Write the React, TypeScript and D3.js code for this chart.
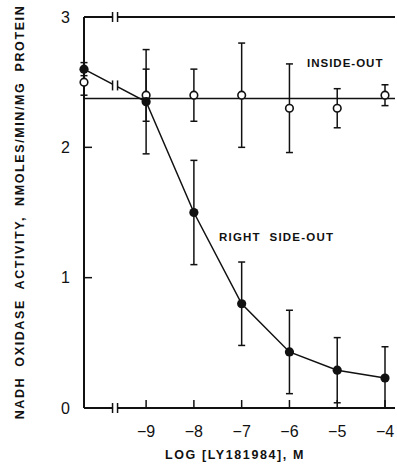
import React from "react";
import * as d3 from "d3";

// log concentration; the control (no drug) sits on the y axis
const CONTROL = -10.3;
const logConc = [-9, -8, -7, -6, -5, -4];
const xTicks = [-9, -8, -7, -6, -5, -4];
const yTicks = [0, 1, 2, 3];

// inside-out vesicles (open circles)
const ioControl = 2.5;
const ioControlErr = 0.1;
const ioValues = [2.4, 2.4, 2.4, 2.3, 2.3, 2.4];
const ioErrors = [0.2, 0.2, 0.4, 0.34, 0.15, 0.08];
const ioMean = 2.375;

// right side-out vesicles (filled circles)
const rsoControl = 2.6;
const rsoControlErr = 0.05;
const rsoValues = [2.35, 1.5, 0.8, 0.43, 0.29, 0.23];
const rsoErrors = [0.4, 0.4, 0.32, 0.32, 0.25, 0.24];

const W = 397;
const H = 465;
const font = "'Liberation Sans', Arial, sans-serif";

const App = () => {
  const x = d3.scaleLinear().domain([CONTROL, -4]).range([84, 385]);
  const y = d3.scaleLinear().domain([0, 3]).range([408, 17]);
  const xEnd = 395;
  const xBreak = -9.65;

  const rsoPts: [number, number][] = [[CONTROL, rsoControl], ...logConc.map((c, i) => [c, rsoValues[i]] as [number, number])];
  const line = d3.line<[number, number]>().x((d) => x(d[0])).y((d) => y(d[1]));

  const errBar = (cx: number, v: number, e: number, key: string) => {
    const px = x(cx);
    const top = y(v + e);
    const bot = y(Math.max(0, v - e));
    return (
      <g key={key} stroke="#111" strokeWidth={1.5}>
        <line x1={px} x2={px} y1={top} y2={bot} />
        <line x1={px - 3.5} x2={px + 3.5} y1={top} y2={top} />
        <line x1={px - 3.5} x2={px + 3.5} y1={bot} y2={bot} />
      </g>
    );
  };

  // break symbol "||" on a horizontal line
  const brk = (bx: number, by: number, key: string) => (
    <g key={key}>
      <rect x={bx - 2} y={by - 2} width={4} height={4} fill="white" />
      <line x1={bx - 2.5} x2={bx - 2.5} y1={by - 5} y2={by + 5} stroke="#111" strokeWidth={1.5} />
      <line x1={bx + 2.5} x2={bx + 2.5} y1={by - 5} y2={by + 5} stroke="#111" strokeWidth={1.5} />
    </g>
  );

  // break on the sloped data segment
  const segX = x(xBreak);
  const t = (segX - x(CONTROL)) / (x(-9) - x(CONTROL));
  const segY = y(rsoControl) + t * (y(rsoValues[0]) - y(rsoControl));

  return (
    <svg width={W} height={H} style={{ position: "absolute", left: 0, top: 0 }} fontFamily={font}>
      <rect width={W} height={H} fill="white" />
      {/* axes frame */}
      <g stroke="#111" strokeWidth={2} fill="none">
        <line x1={x(CONTROL)} x2={x(CONTROL)} y1={y(3)} y2={y(0)} />
        <line x1={x(CONTROL)} x2={xEnd} y1={y(3)} y2={y(3)} />
        <line x1={x(CONTROL)} x2={xEnd} y1={y(0)} y2={y(0)} />
      </g>
      {brk(x(xBreak), y(3), "bt")}
      {brk(x(xBreak), y(0), "bb")}
      {/* y ticks */}
      {yTicks.map((v) => (
        <g key={"y" + v}>
          {v > 0 && v < 3 && (
            <line x1={x(CONTROL)} x2={x(CONTROL) + 8} y1={y(v)} y2={y(v)} stroke="#111" strokeWidth={1.5} />
          )}
          <text x={70} y={y(v)} dy="0.36em" textAnchor="end" fontSize={16} fill="#111">
            {v}
          </text>
        </g>
      ))}
      {/* x ticks */}
      {xTicks.map((v) => (
        <g key={"x" + v}>
          <line x1={x(v)} x2={x(v)} y1={y(0)} y2={y(0) - 8} stroke="#111" strokeWidth={1.5} />
          <text x={x(v)} y={437} textAnchor="middle" fontSize={16} fill="#111">
            {"\u2212" + Math.abs(v)}
          </text>
        </g>
      ))}
      {/* inside-out mean line */}
      <line x1={x(CONTROL)} x2={xEnd} y1={y(ioMean)} y2={y(ioMean)} stroke="#111" strokeWidth={1.5} />
      {/* right side-out curve */}
      <path d={line(rsoPts) ?? ""} fill="none" stroke="#111" strokeWidth={1.5} />
      <g>
        <rect x={segX - 2} y={segY - 3} width={4} height={6} fill="white" />
        <line x1={segX - 2.5} x2={segX - 2.5} y1={segY - 5} y2={segY + 5} stroke="#111" strokeWidth={1.5} />
        <line x1={segX + 2.5} x2={segX + 2.5} y1={segY - 5} y2={segY + 5} stroke="#111" strokeWidth={1.5} />
      </g>
      {/* error bars */}
      {errBar(CONTROL, ioControl, ioControlErr, "ioc")}
      {errBar(CONTROL, rsoControl, rsoControlErr, "rsoc")}
      {logConc.map((c, i) => errBar(c, ioValues[i], ioErrors[i], "io" + i))}
      {logConc.map((c, i) => errBar(c, rsoValues[i], rsoErrors[i], "rso" + i))}
      {/* markers */}
      {[[CONTROL, ioControl] as [number, number], ...logConc.map((c, i) => [c, ioValues[i]] as [number, number])].map((d, i) => (
        <circle key={"oc" + i} cx={x(d[0])} cy={y(d[1])} r={3.8} fill="white" stroke="#111" strokeWidth={1.6} />
      ))}
      {rsoPts.map((d, i) => (
        <circle key={"fc" + i} cx={x(d[0])} cy={y(d[1])} r={4.6} fill="#111" />
      ))}
      {/* annotations */}
      <text x={307} y={67} fontSize={11.5} fontWeight="bold" letterSpacing={1} fill="#111">
        INSIDE-OUT
      </text>
      <text x={219} y={241} fontSize={11.5} fontWeight="bold" letterSpacing={1.2} fill="#111" style={{ whiteSpace: "pre" }}>
        {"RIGHT  SIDE-OUT"}
      </text>
      {/* axis titles */}
      <text x={235} y={459} textAnchor="middle" fontSize={12.5} fontWeight="bold" letterSpacing={1.6} fill="#111">
        LOG [LY181984], M
      </text>
      <text
        transform={`translate(24,${212}) rotate(-90)`}
        textAnchor="middle"
        fontSize={12.5}
        fontWeight="bold"
        letterSpacing={1.6}
        fill="#111"
        style={{ whiteSpace: "pre" }}
      >
        {"NADH  OXIDASE  ACTIVITY,  NMOLES/MIN/MG  PROTEIN"}
      </text>
    </svg>
  );
};

export default App;
